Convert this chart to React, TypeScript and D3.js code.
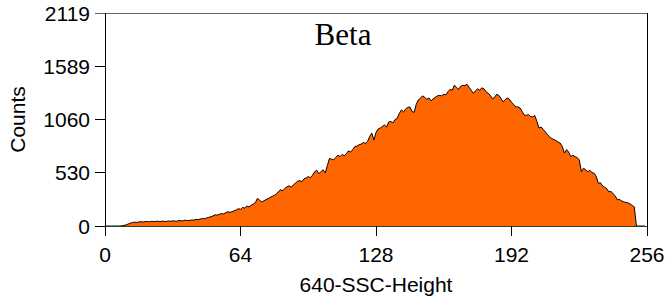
import React from 'react';
import * as d3 from 'd3';

// 640-SSC-Height histogram, 256 channels
const counts: number[] = [
  0, 0, 0, 0, 0, 0, 0, 0, 2, 6,
  12, 20, 28, 34, 38, 36, 40, 42, 39, 44,
  45, 42, 47, 44, 46, 48, 43, 49, 46, 45,
  50, 47, 52, 49, 48, 55, 51, 53, 58, 54,
  56, 60, 58, 66, 63, 70, 74, 72, 80, 86,
  92, 100, 112, 108, 116, 124, 120, 132, 142, 136,
  142, 152, 160, 172, 166, 185, 178, 198, 190, 205,
  218, 232, 275, 258, 240, 250, 262, 272, 285, 295,
  305, 318, 345, 360, 352, 375, 390, 400, 385, 410,
  428, 445, 452, 440, 470, 478, 492, 480, 505, 540,
  555, 520, 540, 560, 528, 600, 672, 665, 660, 680,
  705, 690, 712, 698, 720, 748, 735, 760, 790, 795,
  808, 815, 830, 822, 840, 890, 925, 855, 930, 965,
  975, 990, 1005, 985, 1035, 1040, 1025, 1060, 1070, 1120,
  1155, 1135, 1165, 1180, 1185, 1140, 1130, 1210, 1255, 1270,
  1295, 1280, 1260, 1275, 1245, 1265, 1280, 1295, 1300, 1295,
  1310, 1305, 1335, 1360, 1350, 1400, 1380, 1360, 1390, 1400,
  1395, 1410, 1380, 1350, 1320, 1345, 1365, 1350, 1375, 1365,
  1335, 1320, 1300, 1265, 1280, 1310, 1300, 1270, 1235, 1255,
  1275, 1260, 1230, 1210, 1185, 1185, 1175, 1140, 1105, 1100,
  1110, 1090, 1085, 1100, 1040, 975, 985, 960, 935, 910,
  885, 870, 860, 850, 835, 825, 790, 725, 760, 735,
  690, 705, 690, 680, 660, 540, 575, 560, 540, 555,
  530, 525, 495, 425, 430, 400, 385, 370, 340, 345,
  320, 300, 260, 265, 250, 240, 235, 230, 220, 205,
  190, 0, 0, 0, 0, 0,
];

const xTicks = [0, 64, 128, 192, 256];
const yTicks = [0, 530, 1060, 1589, 2119];

const title = 'Beta';
const xLabel = '640-SSC-Height';
const yLabel = 'Counts';

const W = 666;
const H = 300;
const margin = { top: 13, right: 19, bottom: 74, left: 105 };

const App: React.FC = () => {
  const svgRef = React.useRef<SVGSVGElement>(null);

  React.useEffect(() => {
    if (!svgRef.current) return;
    const svg = d3.select(svgRef.current);
    svg.selectAll('*').remove();

    const x = d3.scaleLinear().domain([0, 256]).range([margin.left, W - margin.right]);
    const y = d3.scaleLinear().domain([0, 2119]).range([H - margin.bottom, margin.top]);
    const x0 = x(0), x1 = x(256), y0 = y(0), y1 = y(2119);

    // histogram area
    const area = d3.area<number>()
      .x((d, i) => x(i))
      .y0(y0)
      .y1(d => y(d));
    const line = d3.line<number>()
      .x((d, i) => x(i))
      .y(d => y(d));

    svg.append('path')
      .datum(counts)
      .attr('d', area)
      .attr('fill', '#ff6600');
    svg.append('path')
      .datum(counts)
      .attr('d', line)
      .attr('fill', 'none')
      .attr('stroke', '#000')
      .attr('stroke-width', 1);

    // frame
    const frame = svg.append('g').attr('stroke-width', 1).attr('shape-rendering', 'crispEdges');
    frame.append('line').attr('x1', x0).attr('x2', x1).attr('y1', y1).attr('y2', y1).attr('stroke', '#666');
    frame.append('line').attr('x1', x1).attr('x2', x1).attr('y1', y1).attr('y2', y0).attr('stroke', '#000');
    frame.append('line').attr('x1', x0).attr('x2', x0).attr('y1', y1).attr('y2', y0 + 10).attr('stroke', '#000');
    frame.append('line').attr('x1', x0 - 10).attr('x2', x1).attr('y1', y0).attr('y2', y0).attr('stroke', '#2f3f22');

    // y ticks
    const yg = svg.append('g').attr('font-family', 'Liberation Sans, Arial, sans-serif').attr('font-size', 21);
    yTicks.forEach(t => {
      yg.append('line')
        .attr('x1', x0 - 10).attr('x2', x0)
        .attr('y1', y(t)).attr('y2', y(t))
        .attr('stroke', t === 2119 ? '#666' : '#000')
        .attr('shape-rendering', 'crispEdges');
      yg.append('text')
        .attr('x', x0 - 15)
        .attr('y', y(t))
        .attr('dy', '0.36em')
        .attr('text-anchor', 'end')
        .text(String(t));
    });

    // x ticks
    const xg = svg.append('g').attr('font-family', 'Liberation Sans, Arial, sans-serif').attr('font-size', 21);
    xTicks.forEach(t => {
      xg.append('line')
        .attr('x1', x(t)).attr('x2', x(t))
        .attr('y1', y0).attr('y2', y0 + 10)
        .attr('stroke', '#000')
        .attr('shape-rendering', 'crispEdges');
      xg.append('text')
        .attr('x', x(t))
        .attr('y', y0 + 36)
        .attr('text-anchor', 'middle')
        .text(String(t));
    });

    // axis labels
    svg.append('text')
      .attr('x', (x0 + x1) / 2)
      .attr('y', y0 + 66)
      .attr('text-anchor', 'middle')
      .attr('font-family', 'Liberation Sans, Arial, sans-serif')
      .attr('font-size', 21)
      .text(xLabel);
    svg.append('text')
      .attr('transform', `translate(25,${(y0 + y1) / 2}) rotate(-90)`)
      .attr('text-anchor', 'middle')
      .attr('font-family', 'Liberation Sans, Arial, sans-serif')
      .attr('font-size', 21)
      .text(yLabel);

    // title
    svg.append('text')
      .attr('x', 343)
      .attr('y', 45)
      .attr('text-anchor', 'middle')
      .attr('font-family', 'Liberation Serif, Times New Roman, serif')
      .attr('font-size', 31)
      .text(title);
  }, []);

  return (
    <svg
      ref={svgRef}
      width={W}
      height={H}
      viewBox={`0 0 ${W} ${H}`}
      style={{ position: 'absolute', left: 0, top: 0, background: '#fff' }}
    />
  );
};

export default App;
